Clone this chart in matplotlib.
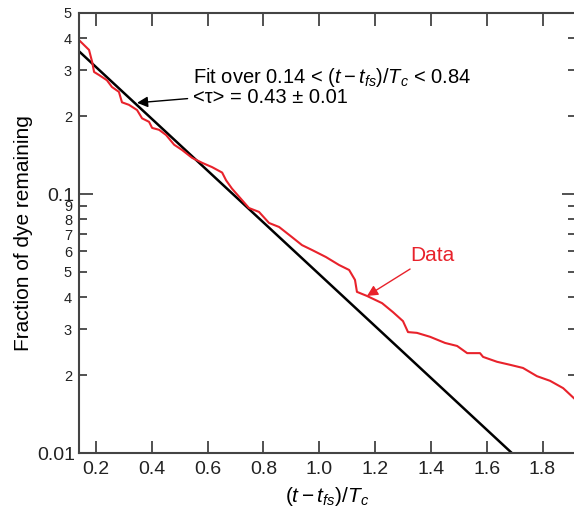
import matplotlib
matplotlib.use("Agg")
from matplotlib import pyplot as plt
from matplotlib.ticker import FixedLocator, NullFormatter

plt.rcParams['font.family'] = ['Liberation Sans', 'DejaVu Sans']
plt.rcParams['mathtext.fontset'] = 'custom'
plt.rcParams['mathtext.rm'] = 'Liberation Sans'
plt.rcParams['mathtext.it'] = 'Liberation Sans:italic'

# measured decay curve (fraction of dye remaining)
data_x = [0.139, 0.175, 0.186, 0.193, 0.211, 0.239, 0.257, 0.282, 0.293, 0.318,
          0.347, 0.365, 0.390, 0.401, 0.426, 0.451, 0.480, 0.508, 0.544, 0.580,
          0.616, 0.652, 0.666, 0.687, 0.723, 0.748, 0.784, 0.820, 0.856, 0.902,
          0.938, 0.974, 1.024, 1.071, 1.107, 1.128, 1.135, 1.171, 1.225, 1.264,
          1.300, 1.318, 1.350, 1.397, 1.451, 1.494, 1.530, 1.576, 1.587, 1.637,
          1.684, 1.730, 1.780, 1.827, 1.874, 1.92]
data_y = [0.393, 0.360, 0.324, 0.296, 0.288, 0.275, 0.259, 0.248, 0.226, 0.221,
          0.211, 0.196, 0.190, 0.180, 0.177, 0.169, 0.155, 0.148, 0.138, 0.132,
          0.127, 0.121, 0.113, 0.105, 0.0948, 0.0883, 0.0853, 0.0773, 0.0746, 0.0682,
          0.0635, 0.0608, 0.0571, 0.0532, 0.0509, 0.0466, 0.0419, 0.0404, 0.0379, 0.0350,
          0.0323, 0.0293, 0.0291, 0.0281, 0.0266, 0.0259, 0.0243, 0.0243, 0.0235, 0.0225,
          0.0219, 0.0213, 0.0198, 0.0190, 0.0178, 0.0160]

# exponential fit, end points
fit_x = [0.14, 1.69]
fit_y = [0.355, 0.0100]

fig = plt.figure(figsize=(5.74, 5.14), dpi=100)
ax = fig.add_axes([79/574, 61/514, 497/574, 440/514])

ax.plot(fit_x, fit_y, color="black", lw=1.8)
ax.plot(data_x, data_y, color="#e8222b", lw=1.5)

ax.set_yscale("log")
ax.set_xlim(0.139, 1.92)
ax.set_ylim(0.01, 0.5)

# y ticks
ax.yaxis.set_major_locator(FixedLocator([0.01, 0.1]))
ax.set_yticklabels(["0.01", "0.1"])
minors = [0.02, 0.03, 0.04, 0.05, 0.06, 0.07, 0.08, 0.09, 0.2, 0.3, 0.4, 0.5]
ax.set_yticks(minors, ["2", "3", "4", "5", "6", "7", "8", "9", "2", "3", "4", "5"], minor=True)
ax.set_xticks([0.2, 0.4, 0.6, 0.8, 1.0, 1.2, 1.4, 1.6, 1.8])
ax.xaxis.set_minor_formatter(NullFormatter())

ax.tick_params(axis="both", which="both", direction="in", top=True, right=True,
               colors="#333333", labelcolor="#222222")
ax.tick_params(axis="x", which="major", length=9, width=1.2, labelsize=14, pad=6)
ax.tick_params(axis="y", which="major", length=10, width=1.2, labelsize=14, pad=3)
ax.tick_params(axis="y", which="minor", length=6, width=1.2, labelsize=10.5, pad=5)
for s in ax.spines.values():
    s.set_color("#444444")
    s.set_linewidth(1.5)

ax.set_xlabel(r"$(t - t_{fs})/T_c$", fontsize=15, labelpad=5)
ax.set_ylabel("Fraction of dye remaining", fontsize=15, labelpad=3)

ax.annotate(r"Fit over 0.14 < $(t - t_{fs})/T_c$ < 0.84" + "\n" + "<τ> = 0.43 ± 0.01",
            xy=(0.347, 0.225), xytext=(0.548, 0.26), fontsize=14.5,
            ha="left", va="center", linespacing=0.95,
            arrowprops=dict(arrowstyle="-|>", color="black", lw=1,
                            mutation_scale=16, shrinkA=2, shrinkB=0))

ax.annotate("Data", xy=(1.171, 0.0404), xytext=(1.325, 0.058), fontsize=15,
            color="#e8222b", ha="left", va="center",
            arrowprops=dict(arrowstyle="-|>", color="#e8222b", lw=1,
                            mutation_scale=16, shrinkA=2, shrinkB=0))

fig.savefig("out.png", dpi=100)
